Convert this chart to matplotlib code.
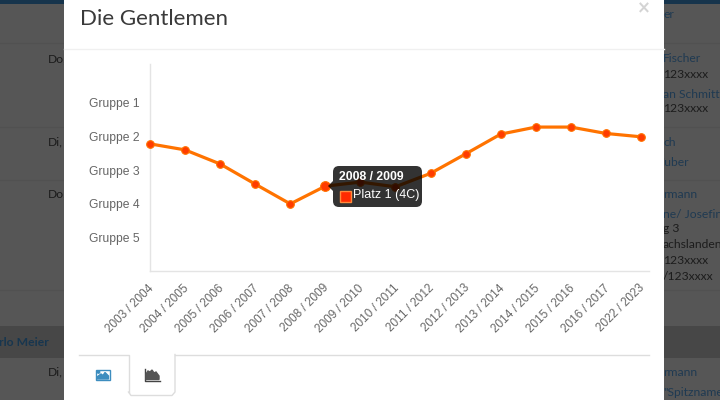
import matplotlib
matplotlib.use('Agg')
import matplotlib.pyplot as plt
from matplotlib.patches import Rectangle, FancyBboxPatch, Polygon, Circle
from matplotlib.transforms import Affine2D

saisons = ['2003 / 2004', '2004 / 2005', '2005 / 2006', '2006 / 2007', '2007 / 2008',
           '2008 / 2009', '2009 / 2010', '2010 / 2011', '2011 / 2012', '2012 / 2013',
           '2013 / 2014', '2014 / 2015', '2015 / 2016', '2016 / 2017', '2022 / 2023']
platz = [2.22, 2.40, 2.82, 3.42, 4.01, 3.48, 3.36, 3.50, 3.10, 2.52, 1.93, 1.72, 1.72, 1.91, 2.01]
gruppen = ['Gruppe 1', 'Gruppe 2', 'Gruppe 3', 'Gruppe 4', 'Gruppe 5']
gruppen_pos = [1, 2, 3, 4, 5]
aktiv = 5

# Text im abgedunkelten Hintergrund: (x, y, text, Farbe)
hg_links = [(48, 59, 'Do,'), (48, 142, 'Di,'), (48, 194, 'Do,'), (48, 372, 'Di,')]
hg_rechts = [(664, 14, 'er', '#1f3a52'), (664, 59, 'Fischer', '#1f3a52'), (664, 74, '123xxxx', '#1c1c1c'),
             (664, 94, 'an Schmitt', '#1f3a52'), (664, 109, '123xxxx', '#1c1c1c'),
             (664, 142, 'ch', '#1f3a52'), (657, 162, 'Huber', '#1f3a52'),
             (664, 194, 'rmann', '#1f3a52'), (664, 214, 'ne/ Josefine', '#1f3a52'),
             (664, 229, 'g 3', '#1c1c1c'), (664, 245, 'achslanden', '#1c1c1c'),
             (664, 261, '123xxxx', '#1c1c1c'), (664, 276, '/123xxxx', '#1c1c1c'),
             (664, 373, 'rmann', '#1f3a52'), (664, 392, '"Spitzname', '#1f3a52')]

W, H = 720, 400
fig = plt.figure(figsize=(W / 100, H / 100), dpi=100)

# Hintergrundseite + Modal, alles in Pixeln
bg = fig.add_axes([0, 0, 1, 1])
bg.set_xlim(0, W)
bg.set_ylim(H, 0)
bg.axis('off')
bg.add_patch(Rectangle((0, 0), W, H, fc='#565656', lw=0, zorder=0))
bg.add_patch(Rectangle((0, 0), W, 4, fc='#16344c', lw=0, zorder=1))
bg.add_patch(Rectangle((0, 326), W, 32, fc='#474747', lw=0, zorder=1))
for y in [43, 127, 180, 290]:
    bg.plot([0, W], [y, y], color='#515151', lw=1, zorder=1)
for x, y, t in hg_links:
    bg.text(x, y, t, fontsize=8.7, family='Lato', color='#1c1c1c', va='center', zorder=2)
bg.text(-1, 343, 'rlo Meier', fontsize=8.7, family='Lato', weight='bold', color='#17364f', va='center', zorder=2)
for x, y, t, c in hg_rechts:
    bg.text(x - 1, y, t, fontsize=8.7, family='Lato', color=c, va='center', zorder=2)

bg.add_patch(Rectangle((64, 0), 600, H, fc='white', lw=0, zorder=3))
bg.plot([64, 664], [48.5, 48.5], color='#f0f0f0', lw=1, zorder=4)
bg.text(80, 25, 'Die Gentlemen', fontsize=16, family='Lato', color='#3a3a3a', va='baseline', zorder=4)
bg.text(644, 8, '×', fontsize=12, weight='bold', color='#d4d4d4', ha='center', va='center', zorder=4)

# Tabs unten
bg.plot([79, 128.5, 128.5], [354.5, 354.5, 392], color='#dddddd', lw=1, zorder=4)
bg.plot([128.5, 131, 172, 175, 175], [392, 395.5, 395.5, 392, 354.5], color='#dddddd', lw=1, zorder=4)
bg.plot([175, 649], [354.5, 354.5], color='#dddddd', lw=1, zorder=4)
bg.add_patch(Rectangle((95.5, 369.5), 14, 10.5, fc='white', ec='#3d8dbf', lw=1, zorder=4))
bg.add_patch(Polygon([(97, 379), (97, 377), (101, 374), (103, 375.5), (105, 372.5), (108.5, 376), (108.5, 379)],
                     color='#3d8dbf', zorder=5))
bg.add_patch(Circle((98.5, 372), 1.2, color='#3d8dbf', zorder=5))
bg.plot([144.5, 144.5, 160], [369, 380.5, 380.5], color='#444444', lw=1, zorder=4)
bg.add_patch(Polygon([(146, 379.5), (146, 374), (148, 371), (150, 372), (152, 370), (154, 373), (156, 372),
                      (159, 376), (159, 379.5)], color='#555555', zorder=4))

# Diagramm
x0, x1 = 150, 649
y0, y1 = 64, 271
ax = fig.add_axes([x0 / W, 1 - y1 / H, (x1 - x0) / W, (y1 - y0) / H])
ax.patch.set_alpha(0)
xs = list(range(len(saisons)))
ax.set_xlim(0, (x1 - x0) / 35.07)
ax.set_ylim(6.01, -0.16)
ax.plot(xs, platz, color='#ff7300', lw=2.3, marker='o', ms=5.5, mfc='#ff3c00', mec='#ff7300', mew=0.8,
        clip_on=False, zorder=3)
ax.plot(xs[aktiv], platz[aktiv], marker='o', ms=7, mfc='#ff3c00', mec='#ff7300', mew=0.8, zorder=4)
for s in ['top', 'right']:
    ax.spines[s].set_visible(False)
for s in ['left', 'bottom']:
    ax.spines[s].set_color('#e4e4e4')
    ax.spines[s].set_linewidth(1)
ax.set_yticks(gruppen_pos, gruppen, family='Liberation Sans', fontsize=8.7, color='#666666')
ax.set_xticks(xs, saisons, family='Liberation Sans', fontsize=8.5, color='#666666',
              rotation=45, ha='right', va='center', rotation_mode='anchor')
ax.tick_params(length=0)
ax.tick_params(axis='y', pad=7.5)
ax.tick_params(axis='x', pad=11)
for lab in ax.get_xticklabels():
    lab.set_transform(lab.get_transform() + Affine2D().translate(2, 0))

# Tooltip
top = fig.add_axes([0, 0, 1, 1])
top.set_xlim(0, W)
top.set_ylim(H, 0)
top.axis('off')
top.add_patch(FancyBboxPatch((336, 169), 83, 35, boxstyle='round,pad=3,rounding_size=6',
                             fc=(0, 0, 0), alpha=0.8, ec='none', zorder=5))
top.add_patch(Polygon([(333, 181), (333, 191), (328, 186)], fc=(0, 0, 0), alpha=0.8, ec='none', zorder=5))
top.text(339, 177, saisons[aktiv], family='Liberation Sans', fontsize=8.8, weight='bold', color='white',
         va='center', zorder=6)
top.add_patch(Rectangle((339.5, 190.5), 11.5, 11.5, fc='#ff2a00', ec='#ff8a3c', lw=1, zorder=6))
top.text(353, 195, 'Platz 1 (4C)', family='Liberation Sans', fontsize=9, color='white', va='center', zorder=6)

fig.savefig('out.png', dpi=100)
